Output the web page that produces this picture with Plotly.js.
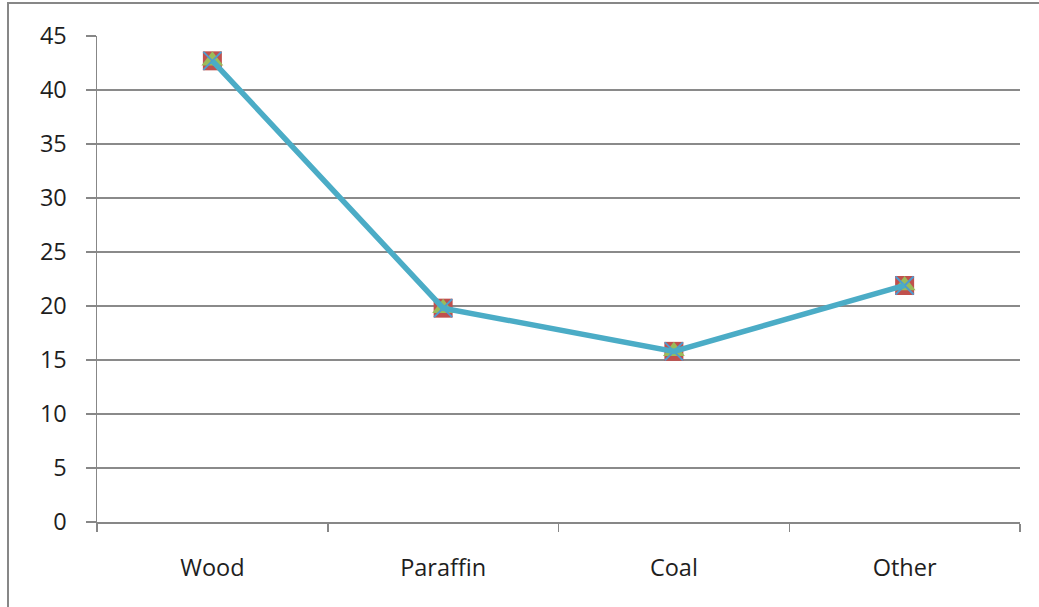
<!DOCTYPE html>
<html>
<head>
<meta charset="utf-8">
<script src="https://cdn.plot.ly/plotly-3.0.1.min.js"></script>
<style>
  html, body { margin: 0; padding: 0; background: #fff; overflow: hidden; }
  #wrap { position: relative; width: 1039px; height: 607px; }
  #chart { position: absolute; left: 0; top: 0; width: 1039px; height: 607px; }
  #frame { position: absolute; left: 7px; top: 2px; width: 1100px; height: 700px;
           border: 2px solid #878787; box-sizing: border-box; pointer-events: none; }
</style>
</head>
<body>
<div id="wrap">
  <div id="chart"></div>
  <div id="frame"></div>
</div>
<script>
const categories = ["Wood", "Paraffin", "Coal", "Other"];
const values = [42.7, 19.8, 15.8, 21.9];
const yTicks = [0, 5, 10, 15, 20, 25, 30, 35, 40, 45];

const font = { family: "Open Sans, Liberation Sans, sans-serif", size: 23.5, color: "#1e1e1e" };

const traces = [
  { x: categories, y: values, type: "scatter", mode: "markers",
    marker: { symbol: "square", size: 19, color: "#C0504D", line: { width: 0 } },
    hoverinfo: "skip", showlegend: false },
  { x: categories, y: values, type: "scatter", mode: "markers",
    marker: { symbol: "triangle-up", size: 19, color: "#9BBB59", line: { width: 0 } },
    hoverinfo: "skip", showlegend: false },
  { x: categories, y: values, type: "scatter", mode: "markers",
    marker: { symbol: "x-thin-open", size: 18, color: "#4F9BD0", line: { width: 2, color: "#4F9BD0" } },
    hoverinfo: "skip", showlegend: false },
  { x: categories, y: values, type: "scatter", mode: "lines",
    line: { color: "#4BACC6", width: 5.5 },
    hoverinfo: "skip", showlegend: false }
];

const layout = {
  width: 1039, height: 607,
  margin: { l: 97, r: 19, t: 36, b: 85 },
  paper_bgcolor: "#ffffff", plot_bgcolor: "#ffffff",
  font: font,
  showlegend: false,
  xaxis: {
    type: "category",
    range: [-0.5, 3.5],
    tickson: "boundaries",
    ticks: "outside", ticklen: 8, tickwidth: 1.5, tickcolor: "#878787",
    showgrid: false, zeroline: false,
    showline: true, linecolor: "#878787", linewidth: 1.5,
    ticklabelstandoff: 24,
    tickfont: font
  },
  yaxis: {
    range: [0, 45],
    tickvals: yTicks,
    ticktext: yTicks.map(String),
    ticks: "outside", ticklen: 10, tickwidth: 1.5, tickcolor: "#878787",
    showgrid: true, gridcolor: "#8a8a8a", gridwidth: 1.2,
    zeroline: false,
    showline: true, linecolor: "#878787", linewidth: 1.5,
    ticklabelstandoff: 14,
    tickfont: font
  }
};

Plotly.newPlot("chart", traces, layout, { displayModeBar: false, staticPlot: true });
</script>
</body>
</html>
